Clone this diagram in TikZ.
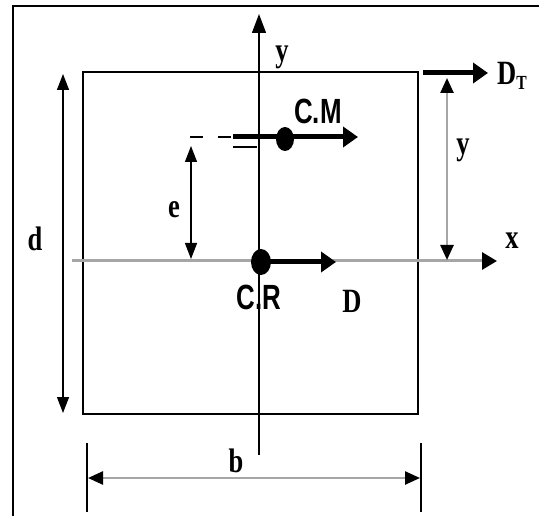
\documentclass[tikz,border=0pt]{standalone}
\usepackage{fontspec}
\setmainfont{Liberation Serif}[FakeStretch=0.78]
\newfontfamily\narrowsans{Liberation Sans}[FakeStretch=0.74]
\usetikzlibrary{arrows.meta}

\tikzset{
  frame/.style={line width=2pt},
  axis/.style={line width=1.3pt, -{Triangle[length=19pt,width=14pt]}},
  gaxis/.style={gray!70, line width=3pt, -{Triangle[length=15pt,width=17pt,black]}},
  force/.style={line width=5pt, -{Triangle[length=15pt,width=20pt]}},
  dimline/.style={line width=1.3pt, {Triangle[length=16pt,width=12pt]}-{Triangle[length=16pt,width=12pt]}},
  gdimline/.style={gray!70, line width=2.5pt, {Triangle[length=15pt,width=13pt,black]}-{Triangle[length=15pt,width=13pt,black]}},
  extline/.style={line width=1.2pt},
  lbl/.style={inner sep=0pt, font=\bfseries\fontsize{34}{34}\selectfont},
  cmlbl/.style={inner sep=0pt, font=\narrowsans\bfseries\fontsize{35}{35}\selectfont}
}

\begin{document}
\begin{tikzpicture}[x=1pt, y=-1pt]
\useasboundingbox (0,0) rectangle (539,516);
\draw[frame] (13,516) -- (13,6) -- (539,6);
\draw[line width=1.4pt] (83,72) rectangle (418,414);

\coordinate (ybot) at (259,455);
\coordinate (ytop) at (259,14);
\coordinate (xleft) at (72,261);
\coordinate (xright) at (497,261);
\draw[gaxis] (xleft) -- (xright);
\draw[axis] (ybot) -- (ytop);

\coordinate (CR) at (261,262);
\coordinate (CRend) at (336,262);
\draw[force] (CR) -- (CRend);
\fill (CR) ellipse [x radius=10pt, y radius=13pt];

\coordinate (CM) at (285,139);
\coordinate (CMstart) at (233,137);
\coordinate (CMend) at (358,137);
\coordinate (CMdash) at (190,137);
\draw[line width=1.3pt, dash pattern=on 13pt off 15pt] (CMdash) -- (CMstart);
\draw[line width=1.3pt] (233,147) -- (257,147);
\draw[force] (CMstart) -- (CMend);
\fill (CM) ellipse [x radius=9pt, y radius=12pt];

\coordinate (DTstart) at (423,73);
\coordinate (DTend) at (488,73);
\draw[force] (DTstart) -- (DTend);

\coordinate (dtop) at (63,74);
\coordinate (dbot) at (63,413);
\draw[dimline] (dtop) -- (dbot);

\coordinate (etop) at (191,146);
\coordinate (ebot) at (191,259);
\draw[dimline] (etop) -- (ebot);

\coordinate (ytopdim) at (447,78);
\coordinate (ybotdim) at (447,260);
\draw[gdimline] (ytopdim) -- (ybotdim);

\coordinate (bleft) at (88,478);
\coordinate (bright) at (420,478);
\draw[extline] (87,443) -- (87,512);
\draw[extline] (421,443) -- (421,512);
\draw[gdimline] (bleft) -- (bright);

\node[lbl] (yaxislab) at (282,57) {y};
\node[cmlbl] (cmlab) at (318,111) {C.M};
\node[cmlbl] (crlab) at (259,297) {C.R};
\node[lbl] (dlab) at (352,301) {D};
\node[lbl] (elab) at (174,210) {e};
\node[lbl] (ddlab) at (35,239) {d};
\node[lbl] (blab) at (236,461) {b};
\node[lbl] (ydimlab) at (463,150) {y};
\node[lbl] (xlab) at (512,241) {x};
\node[lbl, anchor=west] (dtlab) at (497,76) {D\raisebox{-5pt}{\fontsize{20}{20}\selectfont T}};
\end{tikzpicture}
\end{document}
